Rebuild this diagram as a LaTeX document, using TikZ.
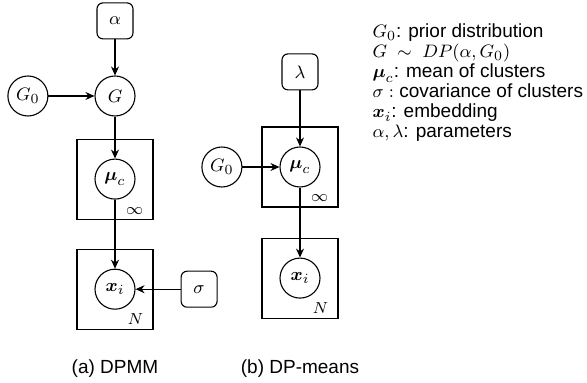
\documentclass[tikz,border=0pt]{standalone}
\usepackage{amsmath}
\usepackage[no-math]{fontspec}
\setmainfont{Liberation Sans}
\usetikzlibrary{positioning,arrows.meta}

\begin{document}
\begin{tikzpicture}[
    x=1pt, y=1pt,
    font=\fontsize{9.5}{11}\selectfont,
    line width=0.55pt,
    var/.style={draw, circle, minimum size=20pt, inner sep=0pt},
    param/.style={draw, rounded corners=3pt, minimum size=18pt, inner sep=0pt},
    plate/.style={draw, minimum width=38pt, minimum height=40pt, inner sep=0pt},
    idx/.style={font=\footnotesize, inner sep=0pt},
    legend/.style={anchor=base west, inner sep=0pt},
    arr/.style={-{Stealth[length=4.5pt, width=4pt]}}
]
\useasboundingbox (0,0) rectangle (293.5,-191.5);

% (a) DPMM
\node[var] (G) at (57.5,-48) {$G$};
\node[param, above=18pt of G] (alpha) {$\alpha$};
\node[var, left=23pt of G] (GzeroA) {$G_0$};
\node[var, below=21pt of G] (muA) {$\boldsymbol{\mu}_c$};
\node[var, below=34.5pt of muA] (xA) {$\boldsymbol{x}_i$};
\node[param, right=22.5pt of xA] (sigma) {$\sigma$};
\node[plate] (plateMuA) at (muA) {};
\node[plate] (plateXA) at (xA) {};
\node[idx] (infA) at ([shift={(-9.5,4.5)}]plateMuA.south east) {$\infty$};
\node[idx] (NA) at ([shift={(-9,5.5)}]plateXA.south east) {$N$};
\node[anchor=base] (capA) at (57.5,-187) {(a) DPMM};

\draw[arr] (alpha) -- (G);
\draw[arr] (GzeroA) -- (G);
\draw[arr] (G) -- (muA);
\draw[arr] (muA) -- (xA);
\draw[arr] (sigma) -- (xA);

% (b) DP-means
\node[var] (muB) at (150,-83.5) {$\boldsymbol{\mu}_c$};
\node[param, above=28pt of muB] (lambda) {$\lambda$};
\node[var, left=18.5pt of muB] (GzeroB) {$G_0$};
\node[var, below=35pt of muB] (xB) {$\boldsymbol{x}_i$};
\node[plate] (plateMuB) at (muB) {};
\node[plate] (plateXB) at (xB) {};
\node[idx] (infB) at ([shift={(-9.5,4.5)}]plateMuB.south east) {$\infty$};
\node[idx] (NB) at ([shift={(-9,5.5)}]plateXB.south east) {$N$};
\node[anchor=base] (capB) at (150,-187) {(b) DP-means};

\draw[arr] (lambda) -- (muB);
\draw[arr] (GzeroB) -- (muB);
\draw[arr] (muB) -- (xB);

% legend
\node[legend] (leg1) at (186,-19) {$G_0$: prior distribution};
\node[legend] (leg2) at ([yshift=-10]leg1.base west) {$G \ \sim\ DP(\alpha, G_0)$};
\node[legend] (leg3) at ([yshift=-10]leg2.base west) {$\boldsymbol{\mu}_c$: mean of clusters};
\node[legend] (leg4) at ([yshift=-10]leg3.base west) {$\sigma:$ covariance of clusters};
\node[legend] (leg5) at ([yshift=-10]leg4.base west) {$\boldsymbol{x}_i$: embedding};
\node[legend] (leg6) at ([yshift=-10]leg5.base west) {$\alpha, \lambda$: parameters};
\end{tikzpicture}
\end{document}
